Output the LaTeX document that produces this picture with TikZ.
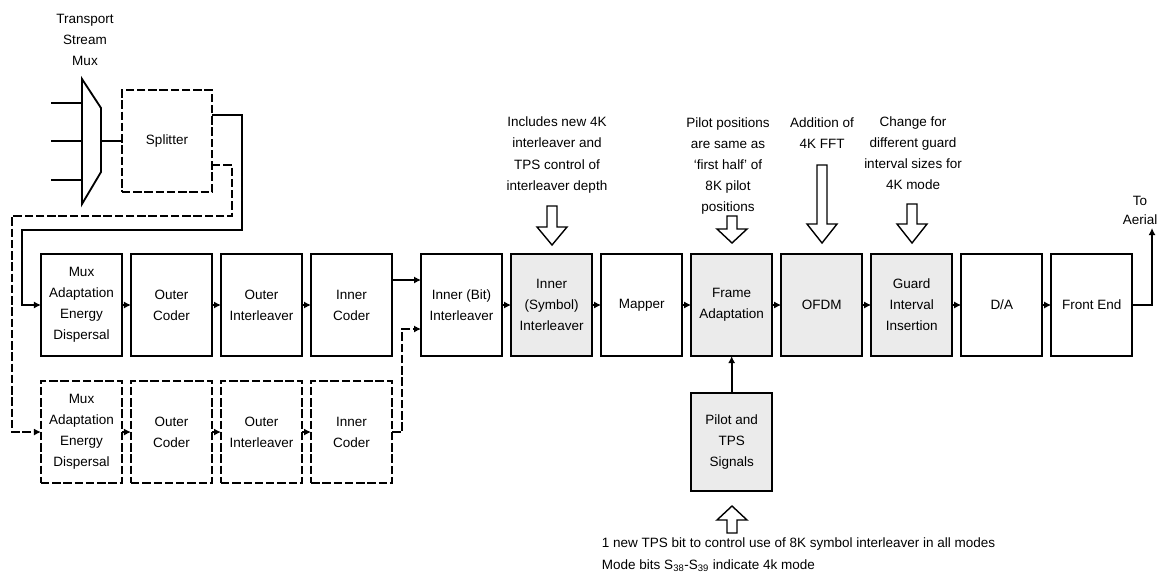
\documentclass[tikz,border=0pt]{standalone}
\usepackage{fontspec}
\setmainfont{Liberation Sans}
\usepackage{xcolor}
\usepackage{tikz}
\usetikzlibrary{shapes,arrows.meta,positioning,calc}

\definecolor{boxgray}{RGB}{235,235,235}

% hollow block arrow: x, tail y, head base y, tip y
\newcommand{\fatarrow}[4]{%
  \draw[hollow] (#1-5,#2) -- (#1+5,#2) -- (#1+5,#3) -- (#1+15,#3) -- (#1,#4) -- (#1-15,#3) -- (#1-5,#3) -- cycle;}

\begin{document}
\begin{tikzpicture}[
    x=0.025cm, y=-0.025cm,
    node distance=0.625cm and 0.225cm,
    txt/.style={align=center, font=\fontsize{9.6}{15}\selectfont},
    b1/.style={rectangle, draw, line width=1.35pt, outer sep=0pt, align=center, minimum height=2.55cm, minimum width=2.025cm, inner sep=1pt, font=\fontsize{9.6}{15}\selectfont},
    b2/.style={b1, fill=boxgray},
    b3/.style={b1, dash pattern=on 6pt off 2pt},
    arr/.style={-{Latex[length=5pt,width=5pt]}, line width=1.3pt},
    dsh/.style={dash pattern=on 6pt off 2pt},
    hollow/.style={draw, line width=1pt, fill=white}
]
    \useasboundingbox (0,0) rectangle (1161,574);

    % transport stream mux and splitter
    \node [txt] (tsm) at (85,40) {Transport\\Stream\\Mux};
    \draw [line width=1.3pt] (82,79) -- (101,108) -- (101,172) -- (82,204) -- cycle;
    \coordinate (i1) at (51,103);  \coordinate (m1) at (82,103);
    \coordinate (i2) at (51,141);  \coordinate (m2) at (82,141);
    \coordinate (i3) at (51,180);  \coordinate (m3) at (82,180);
    \coordinate (mo) at (101,141);
    \draw [line width=1.3pt] (i1) -- (m1) (i2) -- (m2) (i3) -- (m3);
    \node [b3, minimum width=2.25cm] (sp) at (167,141) {Splitter};
    \draw [line width=1.3pt] (mo) -- (sp.west);

    % hierarchical branches
    \node [b1] (n1) at (81.5,305) {Mux\\Adaptation\\Energy\\Dispersal};
    \node [b1, right=of n1] (n2) {Outer\\Coder};
    \node [b1, right=of n2] (n3) {Outer\\Interleaver};
    \node [b1, right=of n3] (n4) {Inner\\Coder};
    \node [b3, below=of n1] (n5) {Mux\\Adaptation\\Energy\\Dispersal};
    \node [b3, right=of n5] (n6) {Outer\\Coder};
    \node [b3, right=of n6] (n7) {Outer\\Interleaver};
    \node [b3, right=of n7] (n8) {Inner\\Coder};

    % main chain
    \node [b1, right=0.725cm of n4] (n9) {Inner (Bit)\\Interleaver};
    \node [b2, right=of n9] (n10) {Inner\\(Symbol)\\Interleaver};
    \node [b1, right=of n10] (n11) {Mapper};
    \node [b2, right=of n11] (n12) {Frame\\Adaptation};
    \node [b2, right=of n12] (n13) {OFDM};
    \node [b2, right=of n13] (n14) {Guard\\Interval\\Insertion};
    \node [b1, right=of n14] (n15) {D/A};
    \node [b1, right=of n15] (n16) {Front End};
    \node [b2, below=0.925cm of n12, minimum height=2.45cm] (n17) {Pilot and\\TPS\\Signals};

    \draw [arr] ($(sp.east)+(0,-26)$) -- ++(30,0) |- (22,230) |- (n1.west);
    \draw [arr, dsh] ($(sp.east)+(0,24)$) -- ++(20,0) |- (12,216) |- (n5.west);
    \draw [arr] (n1) -- (n2);
    \draw [arr] (n2) -- (n3);
    \draw [arr] (n3) -- (n4);
    \draw [arr] (n5) -- (n6);
    \draw [arr] (n6) -- (n7);
    \draw [arr] (n7) -- (n8);
    \draw [arr] ($(n4.east)+(0,-25)$) -- ($(n9.west)+(0,-25)$);
    \draw [arr, dsh] (n8.east) -- ++(10,0) |- ($(n9.west)+(0,24)$);
    \draw [arr] (n9) -- (n10);
    \draw [arr] (n10) -- (n11);
    \draw [arr] (n11) -- (n12);
    \draw [arr] (n12) -- (n13);
    \draw [arr] (n13) -- (n14);
    \draw [arr] (n14) -- (n15);
    \draw [arr] (n15) -- (n16);
    \draw [arr] (n17) -- (n12);
    \coordinate (aer) at (1152,228);
    \draw [arr] (n16.east) -| (aer);
    \node [txt, font=\fontsize{9.6}{13.5}\selectfont] (toa) at (1140,210) {To\\Aerial};

    % notes
    \node [txt] (c1) at (557,155) {Includes new 4K\\interleaver and\\TPS control of\\interleaver depth};
    \node [txt] (c2) at (728,166) {Pilot positions\\are same as\\`first half' of\\8K pilot\\positions};
    \node [txt] (c3) at (822,133) {Addition of\\4K FFT};
    \node [txt] (c4) at (913,153) {Change for\\different guard\\interval sizes for\\4K mode};
    \node [txt, align=left, anchor=west, font=\fontsize{9.6}{15.5}\selectfont] (c5) at (597,555)
        {1 new TPS bit to control use of 8K symbol interleaver in all modes\\Mode bits S\textsubscript{38}-S\textsubscript{39} indicate 4k mode};

    \fatarrow{552}{206}{227}{245}
    \fatarrow{732}{216}{229}{243}
    \fatarrow{822}{165}{224}{243}
    \fatarrow{912}{204}{224}{243}
    \fatarrow{732}{533}{520}{506}
\end{tikzpicture}
\end{document}
